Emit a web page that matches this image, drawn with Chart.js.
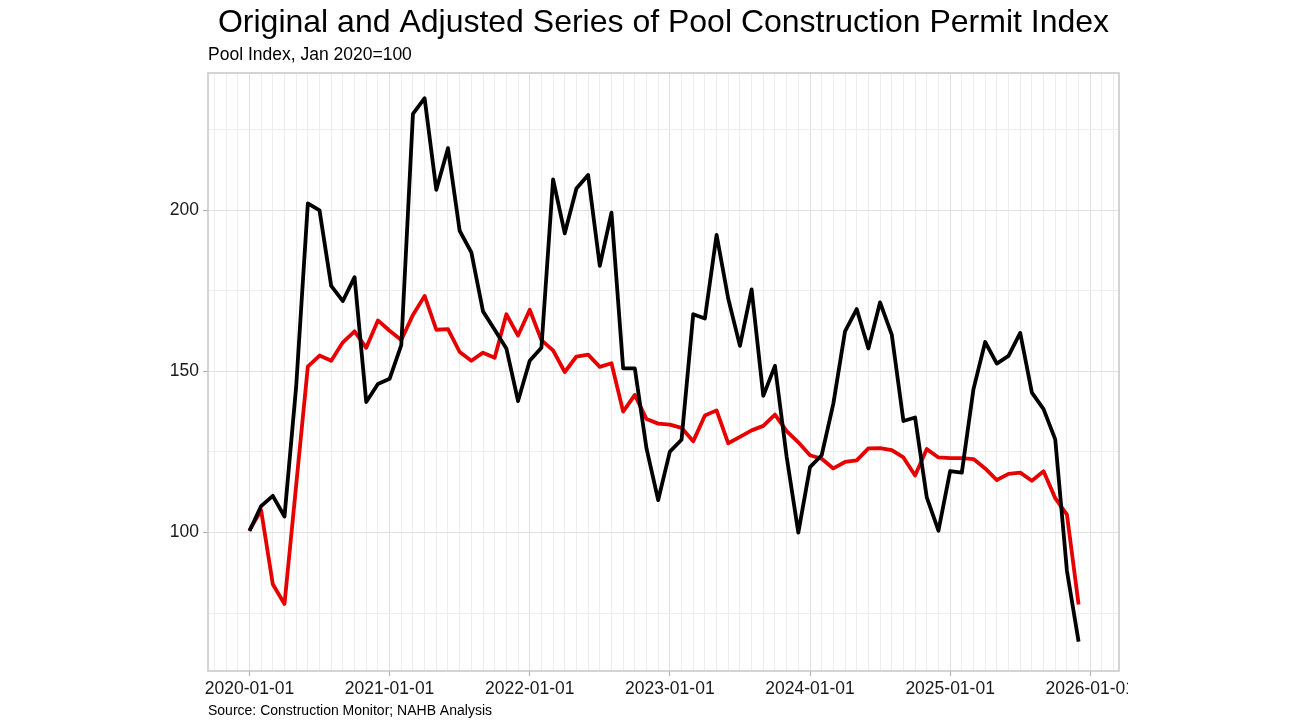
<!DOCTYPE html>
<html>
<head>
<meta charset="utf-8">
<script src="https://cdn.jsdelivr.net/npm/chart.js@4.4.1/dist/chart.umd.min.js"></script>
<style>
  html, body { margin: 0; padding: 0; background: #ffffff; width: 1290px; height: 726px; overflow: hidden; }
  #wrap { position: absolute; left: 0; top: 0; width: 1128px; height: 726px; }
  canvas { display: block; }
</style>
</head>
<body>
<div id="wrap"><canvas id="c" width="1128" height="726"></canvas></div>
<script>
// ---- Data (monthly, Jan 2020 .. Dec 2025) ----
const startYear = 2020;
const monthIndex = Array.from({length: 72}, (_, i) => i); // 0 = 2020-01
const originalSeries = [
  100.5, 108.2, 111.4, 105.0, 145.3, 202.1, 199.9, 176.5, 171.8, 179.2, 140.5, 146.1,
  147.7, 158.1, 229.8, 234.7, 206.3, 219.2, 193.6, 186.9, 168.6, 162.9, 157.1, 140.8,
  153.3, 157.3, 209.5, 192.8, 206.7, 210.9, 182.7, 199.2, 150.9, 150.9, 126.1, 110.1,
  125.1, 128.8, 167.7, 166.4, 192.3, 172.5, 157.9, 175.4, 142.4, 151.7, 123.5, 100.0,
  120.3, 124.0, 140.0, 162.4, 169.3, 157.1, 171.4, 161.4, 134.6, 135.7, 110.9, 100.6,
  119.1, 118.6, 144.5, 159.1, 152.4, 154.8, 161.9, 143.4, 138.3, 128.9, 88.2, 66.2
];
const adjustedSeries = [
  100.7, 106.9, 84.0, 77.9, 114.7, 151.5, 154.9, 153.3, 159.0, 162.4, 157.3, 165.8,
  162.6, 159.7, 167.5, 173.4, 162.9, 163.1, 156.0, 153.3, 155.8, 154.2, 167.7, 161.1,
  169.1, 159.7, 156.5, 149.8, 154.6, 155.2, 151.4, 152.5, 137.5, 142.7, 135.2, 133.8,
  133.5, 132.5, 128.3, 136.3, 137.9, 127.7, 129.7, 131.7, 133.1, 136.6, 131.5, 128.0,
  124.0, 122.9, 119.9, 121.9, 122.4, 126.1, 126.2, 125.6, 123.3, 117.7, 125.9, 123.3,
  123.1, 123.1, 122.8, 119.9, 116.3, 118.2, 118.6, 116.1, 119.0, 110.7, 105.6, 77.7
];
const xTickLabels = ['2020-01-01','2021-01-01','2022-01-01','2023-01-01','2024-01-01','2025-01-01','2026-01-01'];
const yTickLabels = [100, 150, 200];
const titleText = 'Original and Adjusted Series of Pool Construction Permit Index';
const subtitleText = 'Pool Index, Jan 2020=100';
const captionText = 'Source: Construction Monitor; NAHB Analysis';

const FONT = "'Liberation Sans', Arial, Helvetica, sans-serif";

const decor = {
  id: 'decor',
  beforeDraw(chart) {
    const ctx = chart.ctx;
    ctx.save();
    ctx.fillStyle = '#ffffff';
    ctx.fillRect(0, 0, chart.width, chart.height);
    ctx.restore();
  },
  afterDatasetsDraw(chart) {
    const {ctx, chartArea: a} = chart;
    ctx.save();
    ctx.strokeStyle = '#c6c6c6';
    ctx.lineWidth = 1.5;
    ctx.strokeRect(a.left, a.top, a.right - a.left, a.bottom - a.top);
    ctx.restore();
  },
  afterDraw(chart) {
    const {ctx, chartArea: a} = chart;
    ctx.save();
    ctx.fillStyle = '#000000';
    ctx.textBaseline = 'alphabetic';
    ctx.font = '32px ' + FONT;
    ctx.textAlign = 'center';
    ctx.fillText(titleText, (a.left + a.right) / 2, 32);
    ctx.textAlign = 'left';
    ctx.font = '17.5px ' + FONT;
    ctx.fillText(subtitleText, a.left, 60);
    ctx.font = '14px ' + FONT;
    ctx.fillText(captionText, a.left, 715);
    ctx.restore();
  }
};

const isYear = (v) => Math.abs(v / 12 - Math.round(v / 12)) < 1e-6;

new Chart(document.getElementById('c'), {
  type: 'line',
  data: {
    datasets: [
      {
        label: 'Original',
        data: monthIndex.map((m, i) => ({x: m, y: originalSeries[i]})),
        borderColor: '#000000',
        borderWidth: 3.8,
        pointRadius: 0,
        tension: 0,
        borderJoinStyle: 'round',
        borderCapStyle: 'butt',
        fill: false
      },
      {
        label: 'Adjusted',
        data: monthIndex.map((m, i) => ({x: m, y: adjustedSeries[i]})),
        borderColor: '#e60000',
        borderWidth: 3.8,
        pointRadius: 0,
        tension: 0,
        borderJoinStyle: 'round',
        borderCapStyle: 'butt',
        fill: false
      }
    ]
  },
  options: {
    responsive: false,
    animation: false,
    devicePixelRatio: 1,
    layout: { padding: { top: 73, right: 9, bottom: 0, left: 0 } },
    plugins: {
      legend: { display: false },
      title: { display: false },
      tooltip: { enabled: false }
    },
    scales: {
      x: {
        type: 'linear',
        min: -3.55,
        max: 74.46,
        afterFit(scale) { scale.height = 55; },
        border: { display: false },
        grid: {
          color: (c) => (c.tick && isYear(c.tick.value)) ? '#e0e0e0' : '#eeeeee',
          lineWidth: 1,
          tickLength: 5,
          tickColor: (c) => (c.tick && isYear(c.tick.value)) ? '#b3b3b3' : 'rgba(0,0,0,0)',
          tickWidth: 1.2
        },
        ticks: {
          stepSize: 1,
          includeBounds: false,
          autoSkip: false,
          maxRotation: 0,
          minRotation: 0,
          padding: 3,
          color: '#1a1a1a',
          font: { family: FONT, size: 17.5 },
          callback: (v) => {
            if (isYear(v)) {
              const k = Math.round(v / 12);
              return xTickLabels[k] !== undefined ? xTickLabels[k] : '';
            }
            return '';
          }
        }
      },
      y: {
        type: 'linear',
        min: 57.1,
        max: 242.5,
        afterFit(scale) { scale.width = 208; },
        border: { display: false },
        grid: {
          color: (c) => (c.tick && c.tick.value % 50 === 0) ? '#e0e0e0' : '#eeeeee',
          lineWidth: 1,
          tickLength: 5,
          tickColor: (c) => (c.tick && c.tick.value % 50 === 0) ? '#b3b3b3' : 'rgba(0,0,0,0)',
          tickWidth: 1.2
        },
        ticks: {
          stepSize: 25,
          includeBounds: false,
          autoSkip: false,
          padding: 4,
          color: '#1a1a1a',
          font: { family: FONT, size: 17.5 },
          callback: (v) => yTickLabels.includes(v) ? String(v) : ''
        }
      }
    }
  },
  plugins: [decor]
});
</script>
</body>
</html>
